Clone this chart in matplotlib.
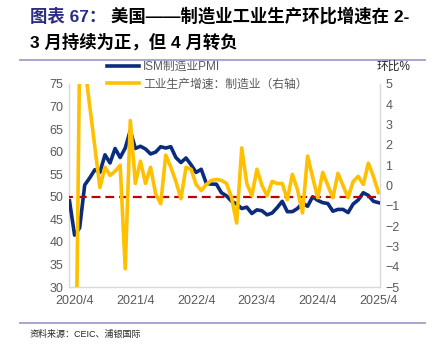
import matplotlib
matplotlib.use('Agg')
import matplotlib.pyplot as plt
from matplotlib.lines import Line2D

plt.rcParams['font.family'] = ['Liberation Sans', 'Noto Sans CJK SC', 'DejaVu Sans']

# ISM manufacturing PMI, 2020/3 - 2025/4 (monthly)
pmi = [49.1, 41.5, 43.1, 52.6, 54.2, 56.0, 55.4, 59.3, 57.5, 60.7,
       58.7, 60.8, 64.7, 60.7, 61.2, 60.6, 59.5, 59.9, 61.1, 60.8, 61.1, 58.7,
       57.6, 58.6, 57.1, 55.4, 56.1, 53.0, 52.8, 52.8, 50.9, 50.2, 49.0, 48.4,
       47.4, 47.7, 46.3, 47.1, 46.9, 46.0, 46.4, 47.6, 49.0, 46.7, 46.7, 47.4,
       48.6, 47.9, 50.0, 49.2, 48.7, 48.5, 46.8, 47.2, 47.2, 46.5, 48.4, 49.3,
       50.9, 50.3, 49.0, 48.7]
# industrial production: manufacturing, m/m % (right axis)
ip_mfg = [-5.6, -15.0, 6.5, 5.9, 3.9, 1.9, -0.1, 0.9, 0.5, 0.7,
          1.0, -4.1, 3.2, 0.1, 1.2, 0.1, 0.9, -0.4, -0.9, 1.5, 0.9, 0.2,
          -0.65, 0.9, 0.8, 0.05, -0.25, 0.05, 0.25, 0.3, 0.25, 0.1, -0.6, -1.85,
          1.85, 0.1, -0.5, 0.8, 0.0, -0.5, 0.2, 0.1, 0.1, -0.7, 0.55, -0.2,
          -1.35, 1.45, 0.4, -0.6, 0.65, 0.0, -0.6, 0.6, 0.0, -0.6, 0.2, 0.45,
          0.05, 1.1, 0.45, -0.35]
tick_pos = [1, 13, 25, 37, 49, 61]
tick_labels = ['2020/4', '2021/4', '2022/4', '2023/4', '2024/4', '2025/4']

W, H = 433, 347
fig = plt.figure(figsize=(W / 100, H / 100), dpi=100)
ax = fig.add_axes([69 / W, 1 - 287 / H, 311 / W, 203 / H])
ax2 = ax.twinx()

x = list(range(len(pmi)))
l1, = ax.plot(x, pmi, color='#0B2C7C', lw=2.6, label='ISM制造业PMI', zorder=3)
ax.plot([x[0] - 1, x[-1] + 1], [50, 50], color='#C00000', lw=1.6,
        dashes=(4, 2.2), zorder=4)
l2, = ax2.plot(x, ip_mfg, color='#FFC000', lw=2.6, label='工业生产增速：制造业（右轴）',
               zorder=3)

ax.set_xlim(-0.1, 61.3)
ax.set_ylim(30, 75)
ax.set_yticks(range(30, 76, 5))
ax2.set_ylim(-5, 5)
ax2.set_yticks(range(-5, 6))
ax.set_xticks(tick_pos)
ax.set_xticklabels(tick_labels)

grey = '#595959'
for a in (ax, ax2):
    a.tick_params(length=0, labelsize=9, colors=grey, pad=4)
    for s in a.spines.values():
        s.set_visible(False)
ax.tick_params(axis='x', pad=6)
for side in ('left', 'right', 'bottom'):
    ax.spines[side].set_visible(True)
    ax.spines[side].set_color('#D9D9D9')
    ax.spines[side].set_linewidth(1.0)

leg = ax.legend(handles=[l1, l2], loc='upper left', bbox_to_anchor=(107 / W, 1 - 61 / H),
                bbox_transform=fig.transFigure, frameon=False, fontsize=8.5,
                handlelength=2.7, handletextpad=0.35, labelspacing=0.45,
                borderaxespad=0, borderpad=0)
for t in leg.get_texts():
    t.set_color(grey)

fig.text(394 / W, 1 - 67 / H, '环比%', fontsize=8.5, ha='center', va='center', color='#262626')

# title
title_blue = '#2B2D84'
fig.text(30 / W, 1 - 16 / H, '图表 67：', fontsize=12.5, fontweight='bold', color=title_blue,
         va='center')
fig.text(111 / W, 1 - 16 / H, '美国——制造业工业生产环比增速在 2-', fontsize=12.5,
         fontweight='bold', color='black', va='center')
fig.text(30 / W, 1 - 42 / H, '3 月持续为正，但 4 月转负', fontsize=12.5, fontweight='bold',
         color='black', va='center')

fig.add_artist(Line2D([20 / W, 425 / W], [1 - 59.5 / H] * 2, color='#A6A6D0', lw=1.4))
fig.add_artist(Line2D([20 / W, 425 / W], [1 - 323 / H] * 2, color='#A6A6D0', lw=1.4))
fig.text(30 / W, 1 - 334 / H, '资料来源：CEIC、浦银国际', fontsize=6.5, va='center',
         color='#262626')

fig.savefig('out.png', dpi=100)
